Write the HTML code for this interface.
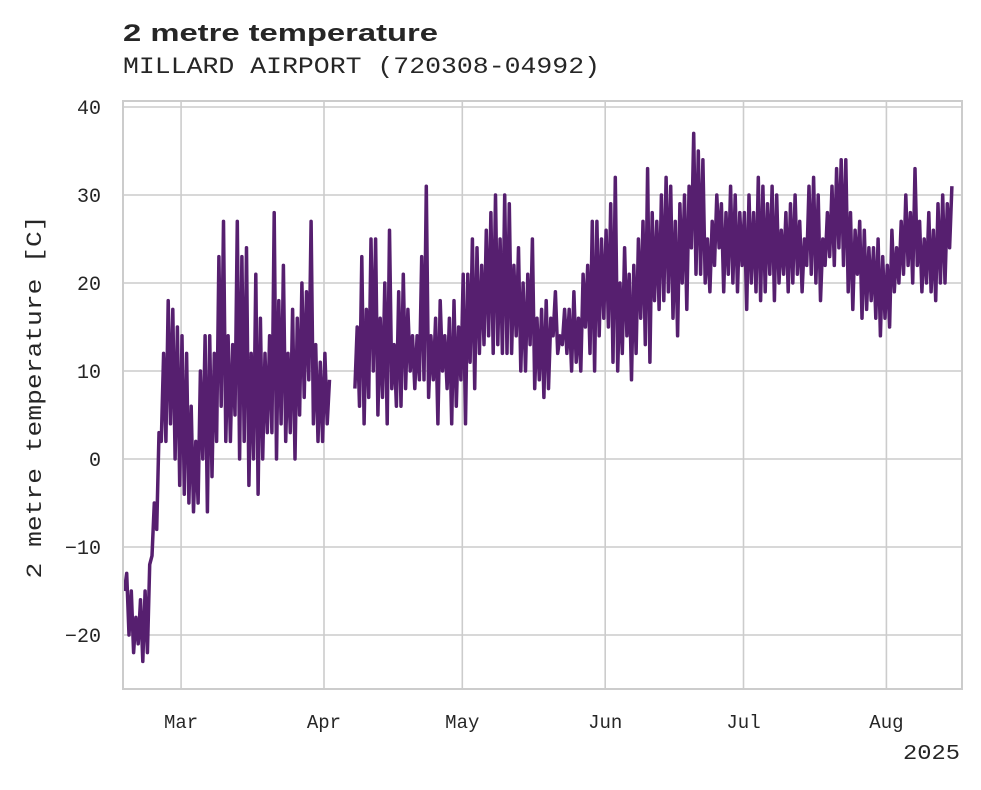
<!DOCTYPE html>
<html><head><meta charset="utf-8"><style>
body{margin:0;background:#fff;}
svg text{fill:#262626;}
</style></head><body>
<svg id="chart" width="981" height="785" xmlns="http://www.w3.org/2000/svg">
<text x="123" y="41" font-family="Liberation Sans, sans-serif" font-weight="bold" font-size="24" textLength="315" lengthAdjust="spacingAndGlyphs">2 metre temperature</text>
<text x="123" y="73" font-family="Liberation Mono, monospace" font-size="23" textLength="477" lengthAdjust="spacingAndGlyphs">MILLARD AIRPORT (720308-04992)</text>
<text transform="translate(41,397) rotate(-90)" text-anchor="middle" font-family="Liberation Mono, monospace" font-size="22" textLength="363" lengthAdjust="spacingAndGlyphs">2 metre temperature [C]</text>
<g id="grid"></g>
<g id="ticks"></g>
<path id="series" fill="none" stroke="#561f6f" stroke-width="3.5" stroke-linejoin="round"></path>
<rect x="123" y="101" width="839" height="588" fill="none" stroke="#cccccc" stroke-width="2"/>
<text x="960" y="759" text-anchor="end" font-family="Liberation Mono, monospace" font-size="21" textLength="57" lengthAdjust="spacingAndGlyphs">2025</text>
</svg>
<script>
const yTicks=[-20,-10,0,10,20,30,40];
const monthLabels=["Mar","Apr","May","Jun","Jul","Aug"];
const monthDays=[12,43,73,104,134,165]; // day offsets from Feb 17
const highs=[-13,-15,-18,-16,-15,-12,-5,3,12,18,17,15,
14,12,6,2,10,14,14,12,23,27,14,13,27,23,24,12,21,16,12,14,28,18,22,12,17,16,20,19,27,13,11,12,9,
null,null,null,null,null,
15,23,17,25,25,16,20,26,13,19,21,17,14,14,23,31,14,16,18,14,16,18,15,
21,21,25,24,22,26,28,30,25,30,29,22,24,20,21,25,16,17,18,16,19,14,17,17,19,16,21,22,27,27,25,
26,29,32,20,24,21,22,25,27,33,28,27,30,32,31,27,29,30,31,37,35,34,25,27,30,29,28,31,30,28,
28,30,28,32,31,29,31,30,26,28,29,30,27,25,31,32,30,25,28,31,33,34,34,28,26,27,26,24,24,25,23,
22,26,24,27,30,28,33,27,25,28,26,29,30,29,31];
const lows=[-15,-20,-22,-21,-23,-22,-11,-8,2,2,4,0,
-3,-4,-5,-6,-5,0,-6,-2,2,6,2,2,5,0,2,-3,0,-4,0,3,3,0,4,2,3,0,5,7,9,4,2,2,4,
null,null,null,null,null,
8,6,4,7,10,5,7,4,8,6,6,8,10,8,9,9,7,9,4,10,8,4,6,
9,4,11,8,12,13,14,12,13,12,12,12,14,10,10,13,8,9,7,8,14,12,13,12,10,11,10,15,12,10,14,
16,15,11,10,12,14,9,12,16,13,11,18,17,18,19,16,14,20,17,24,21,21,20,19,22,24,19,21,20,19,
22,17,20,19,18,19,21,18,20,21,19,20,21,19,22,21,20,18,22,23,22,24,22,19,17,21,16,17,18,16,14,
16,15,19,20,21,22,20,22,19,20,19,18,20,20,24];
const X0=123,X1=962,Y0=101,Y1=689,DAY0=-0.6,DAYS=(962-123)/4.61;
function xs(t){return X0+(t-DAY0)/DAYS*(X1-X0);}
function ys(v){return 459-v*8.8;}
const NS="http://www.w3.org/2000/svg";
const grid=document.getElementById('grid'),ticks=document.getElementById('ticks');
yTicks.forEach(v=>{
  const l=document.createElementNS(NS,'line');
  
  
  l.setAttribute('x1',X0);l.setAttribute('x2',X1);l.setAttribute('y1',ys(v));l.setAttribute('y2',ys(v));
  l.setAttribute('stroke','#cccccc');l.setAttribute('stroke-width','1.6');grid.appendChild(l);
  const t=document.createElementNS(NS,'text');
  
  
  t.setAttribute('x',101);t.setAttribute('y',ys(v)+7);t.setAttribute('text-anchor','end');
  t.setAttribute('font-family','Liberation Mono, monospace');t.setAttribute('font-size','20');
  t.textContent=v<0?'\u2212'+(-v):String(v);ticks.appendChild(t);
});
monthDays.forEach((d,i)=>{
  const l=document.createElementNS(NS,'line');
  
  
  l.setAttribute('x1',xs(d));l.setAttribute('x2',xs(d));l.setAttribute('y1',Y0);l.setAttribute('y2',Y1);
  l.setAttribute('stroke','#cccccc');l.setAttribute('stroke-width','1.6');grid.appendChild(l);
  const t=document.createElementNS(NS,'text');
  
  
  t.setAttribute('x',xs(d));t.setAttribute('y',728);t.setAttribute('text-anchor','middle');
  t.setAttribute('font-family','Liberation Mono, monospace');t.setAttribute('font-size','19');
  t.textContent=monthLabels[i];ticks.appendChild(t);
});
let dstr='',pen=false;
for(let d=0;d<highs.length;d++){
  if(highs[d]==null){pen=false;continue;}
  const pts=[[d-0.3,lows[d]],[d+0.2,highs[d]]];
  pts.forEach(p=>{dstr+=(pen?'L':'M')+xs(p[0]).toFixed(1)+' '+ys(p[1]).toFixed(1)+' ';pen=true;});
}
document.getElementById('series').setAttribute('d',dstr);
</script>
</body></html>
